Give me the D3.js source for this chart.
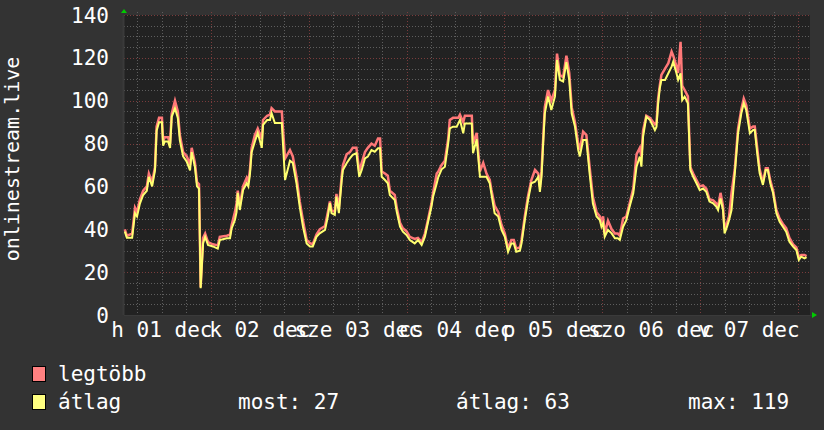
<!DOCTYPE html>
<html><head><meta charset="utf-8">
<script src="https://cdn.jsdelivr.net/npm/d3@7"></script>
<style>
body{margin:0;background:#333333;}
svg{display:block;}
text{font-family:"DejaVu Sans Mono",monospace;fill:#ffffff;}
</style>
</head><body>
<svg id="c" width="824" height="430"></svg>
<script>
// time in hours since Mon 01 Dec 00:00
const hours = [2.9,3.4,4.7,5.4,5.9,6.6,7.4,8.3,8.8,9.6,10.3,10.7,11.3,12.0,12.3,12.7,13.5,14.0,14.4,15.2,15.9,16.4,17.2,18.1,18.9,19.3,20.1,20.6,21.1,21.5,22.1,22.6,23.3,24.5,25.7,26.2,27.9,28.7,29.1,29.9,30.3,30.6,31.1,31.9,32.8,33.2,33.6,34.0,34.8,35.5,36.5,36.8,37.8,38.5,38.9,39.7,40.5,41.4,42.2,43.4,44.1,45.0,45.8,46.6,47.5,48.3,49.0,49.9,50.7,52.0,52.7,53.2,53.6,54.4,54.8,55.4,56.1,56.4,57.3,58.1,58.8,59.7,60.4,61.0,61.8,62.5,63.4,64.2,65.0,65.5,65.9,66.7,67.4,67.9,69.1,69.6,70.4,71.1,72.0,72.8,74.0,74.8,75.7,76.5,77.2,78.1,78.5,79.4,79.8,80.6,81.4,82.2,82.6,83.4,84.3,84.7,85.1,85.9,86.3,87.0,88.0,88.3,89.2,90.0,90.8,91.6,92.4,92.8,93.6,94.5,95.3,96.1,96.9,97.7,98.3,98.9,99.8,100.2,101.0,101.8,102.6,103.5,104.3,104.7,105.1,105.5,105.9,106.7,107.5,108.4,108.9,109.6,110.4,111.2,111.9,112.5,113.3,114.1,114.5,115.3,116.1,116.9,117.7,118.6,119.4,119.8,120.2,120.6,121.4,122.3,123.1,123.8,124.3,125.1,125.9,126.7,127.6,128.4,129.2,129.6,130.0,130.8,131.7,132.5,132.9,133.3,133.7,134.1,134.5,135.4,136.2,137.0,137.4,138.2,138.6,139.2,139.6,140.2,141.0,141.6,142.3,143.1,143.9,144.7,145.5,146.3,147.2,148.0,148.4,149.0,149.6,150.0,150.6,151.1,151.7,152.5,153.3,154.1,154.7,155.3,156.2,157.0,157.4,158.0,158.6,159.4,160.1,160.6,161.2,161.9,162.7,163.5,164.3,165.1,165.9,166.8,167.6,168.2,168.8,169.6,170.1];
const avgValues = [39,36,36,47.5,46,52,56,58,64.5,60,67.5,86,90,90,79,81,81,78,92.5,96.5,92,81.5,74,71.5,67.5,76,69,60,59,12.5,33.5,36.5,32.7,32,31,35,35.8,35.8,40.4,44.3,48,57,49,58.3,61.5,60,66,76,81,85,78,88.7,91,91,94.2,89.6,89.6,89.6,63,72,71,61.5,50.5,41.2,33.4,32,32,36.5,38.1,39.7,46,52.2,47.5,46.7,55.2,47.5,63,67.7,70.8,73.1,74.7,75.5,64.5,67.7,73.1,73.9,77,76.2,77.8,77.8,64.5,63,61.5,56,53.7,48.2,41.2,38.9,37.3,35,33.4,35,32.7,36.5,42.8,50.5,55.2,61.5,64.5,68,69.2,80,87.1,87.9,87.9,89.4,91,84.8,89.4,89.4,89.4,75.5,82,64.5,64.5,64.5,61.5,56.7,47.5,45.9,39.7,36.5,29.5,33.4,33.4,29.5,30,33.4,44.3,53.7,61.5,62.2,64.5,57.5,64.5,80,94,102,95.7,102,119,109.7,109,118,109.7,94,88,77,74,81.7,81.7,66,52,46,44.3,41.2,42.8,36.5,39.7,38.1,35.8,35.8,35,41.2,44.3,50.5,56.8,69.2,73.9,69.2,83.2,92.5,91,87.9,86.3,87.9,98.8,105.8,109.7,109.7,112.8,115.9,118.2,112.8,109.7,112.8,100.3,101.9,98.8,67.7,64.5,61.5,58.3,59,57.5,52.9,52.1,50.5,49,54.4,49,38.1,41.2,44.3,49,66.1,84.8,94.1,98.8,95.7,84.8,86.3,86.3,75.5,66.1,60.7,67.7,67.7,61.5,56.8,47.5,43.5,41.2,38.9,34.2,31.9,30.3,25.7,27.2,26.4,27];
const maxValues = [40,37,38,50,48,54,58,60,66,62,69,88,92,92,81,83,83,80,94,100,95,84,76,74,70,78,71,62,61,13,36,38,34,33,32.5,36.5,37,37.5,42,48,52,58,51,60,64,62,68,78,84,87,82,91,93,93.5,96.5,95,95,95,73,77,74,64.5,53,44,35,33.5,33,37.5,40,41.5,48,53,49,48,56.5,50,65,70,75,76,78,78,67,71,76,78,80,79,82.4,82.4,67,66,65,58,56,50,43,40.5,39,36.5,35.5,36,34,38,44,52,57,66,67,70,72,82,91,92,92,92,93.5,90,93,93,93,80,85,67,71,66,63,58.5,51,48,42,38,31,35,35,31,31.5,35,46,55.5,63,67.7,66,60,67,82,97,105,100,105,122,112,111,121,113,97,90,80,77,85.6,84,69,55,48,46,43,46,38,44,40,38,38,37,45,46,52,59,75,78,74,86,93,92,90,89,90,101,107,112,115,117.5,122.9,121,116,113,127.5,107,105,102,69,66,63,60,60.5,59,54,53.5,52,50.5,57,51,40,43,46,57,68,87,96,101,98,87,88,88,78,68,62,68.5,68.5,63,58,49,45,42.5,40.5,36,33,31.5,27,28,28,27.5];
const yTicks = [0,20,40,60,80,100,120,140];
const dayLabels = ["h 01 dec","k 02 dec","sze 03 dec","cs 04 dec","p 05 dec","szo 06 dec","v 07 dec"];
const seriesNames = ["legtöbb","átlag"];
const seriesColors = ["#ff7878","#ffff70"];
const legendColors = ["#ff8080","#ffff80"];
const statLabels = ["most: 27","átlag: 63","max: 119"];
const yTitle = "onlinestream.live";

const svg = d3.select("#c");
const L = 124, R = 809, T = 15, B = 315;
const x = d3.scaleLinear().domain([2.7, 170.7]).range([L, R]);
const y = d3.scaleLinear().domain([0, 140]).range([B, T]);

svg.append("rect").attr("width",824).attr("height",430).attr("fill","#333333");
svg.append("rect").attr("x",L-1).attr("y",T).attr("width",R-L+2).attr("height",B-T).attr("fill","#222222");

// minor horizontal grid
const g = svg.append("g");
d3.range(5,140,5).filter(v=>v%20!==0).forEach(v=>{
  g.append("line").attr("x1",L).attr("x2",R+1).attr("y1",Math.round(y(v))+0.5).attr("y2",Math.round(y(v))+0.5)
   .attr("stroke","#5e5e5e").attr("stroke-dasharray","1,2");
});
// minor vertical grid
d3.range(6,171,6).filter(h=>h%24!==0 && h>2.7).forEach(h=>{
  g.append("line").attr("y1",T-3).attr("y2",B).attr("x1",Math.round(x(h))+0.5).attr("x2",Math.round(x(h))+0.5)
   .attr("stroke","#5e5e5e").attr("stroke-dasharray","1,2");
});
// major grid
yTicks.filter(v=>v>0).forEach(v=>{
  g.append("line").attr("x1",L).attr("x2",R+1).attr("y1",Math.round(y(v))+0.5).attr("y2",Math.round(y(v))+0.5)
   .attr("stroke","#7a3c3c").attr("stroke-dasharray","1,2");
});
d3.range(24,171,24).forEach(h=>{
  g.append("line").attr("y1",T-3).attr("y2",B+2).attr("x1",Math.round(x(h))+0.5).attr("x2",Math.round(x(h))+0.5)
   .attr("stroke","#7a3c3c").attr("stroke-dasharray","1,2");
});

// axes lines
svg.append("line").attr("x1",L-0.5).attr("x2",L-0.5).attr("y1",T).attr("y2",B).attr("stroke","#3a3a3a").attr("stroke-width",2);
svg.append("line").attr("x1",L).attr("x2",R+4).attr("y1",B+0.5).attr("y2",B+0.5).attr("stroke","#3a3a3a");

// arrows
svg.append("path").attr("d",`M${L-3},${T-2}L${L+3},${T-2}L${L},${T-6}Z`).attr("fill","#00cc00");
svg.append("path").attr("d",`M${R+3},${B-3}L${R+3},${B+3}L${R+8},${B}Z`).attr("fill","#00cc00");

// data lines
const pts = hours.map((h,i)=>({h, a:avgValues[i], m:maxValues[i]}));
const lineMax = d3.line().x(d=>x(d.h)).y(d=>y(d.m));
const lineAvg = d3.line().x(d=>x(d.h)).y(d=>y(d.a));
svg.append("path").datum(pts).attr("d",lineMax).attr("fill","none").attr("stroke",seriesColors[0]).attr("stroke-width",2.5);
svg.append("path").datum(pts).attr("d",lineAvg).attr("fill","none").attr("stroke",seriesColors[1]).attr("stroke-width",2);

// y tick labels
yTicks.forEach(v=>{
  svg.append("text").attr("x",109).attr("y",y(v)+7.5).attr("text-anchor","end").attr("font-size",21).text(v);
});
// x day labels
dayLabels.forEach((lab,i)=>{
  svg.append("text").attr("x",x(12+24*i)).attr("y",337).attr("text-anchor","middle").attr("font-size",21).text(lab);
});
// y title
svg.append("text").attr("transform","translate(19,159) rotate(-90)").attr("text-anchor","middle").attr("font-size",20).text(yTitle);

// legend
seriesNames.forEach((n,i)=>{
  svg.append("rect").attr("x",32.5).attr("y",366.5+28*i).attr("width",13).attr("height",15).attr("fill",legendColors[i]).attr("stroke","#000");
  svg.append("text").attr("x",58).attr("y",381+28*i).attr("font-size",21).text(n);
});
const statX = [238,456,688];
statLabels.forEach((s,i)=>{
  svg.append("text").attr("x",statX[i]).attr("y",409).attr("font-size",21).text(s);
});
</script>
</body></html>
